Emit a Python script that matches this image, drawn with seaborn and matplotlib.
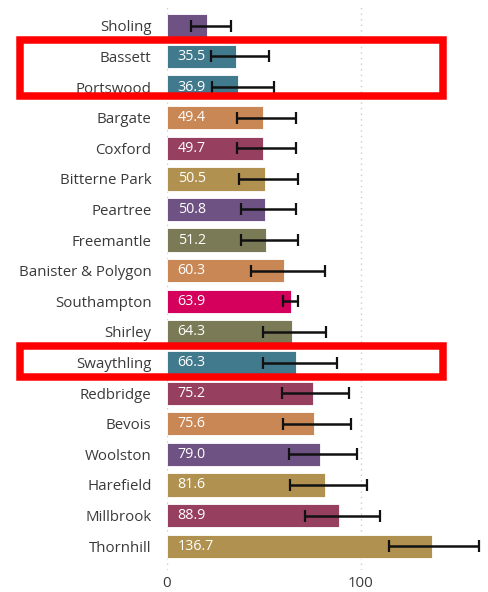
#!/usr/bin/env python3
"""Ward bar chart with confidence intervals, highlighted wards boxed in red."""

import matplotlib.pyplot as plt
import matplotlib.transforms as mtransforms
import pandas as pd
import seaborn as sns
from matplotlib.patches import Rectangle

WARDS = [
    "Sholing", "Bassett", "Portswood", "Bargate", "Coxford", "Bitterne Park",
    "Peartree", "Freemantle", "Banister & Polygon", "Southampton", "Shirley",
    "Swaythling", "Redbridge", "Bevois", "Woolston", "Harefield", "Millbrook",
    "Thornhill",
]
VALUES = [20.5, 35.5, 36.9, 49.4, 49.7, 50.5, 50.8, 51.2, 60.3, 63.9, 64.3,
          66.3, 75.2, 75.6, 79.0, 81.6, 88.9, 136.7]
CI_LOW = [12.2, 22.7, 23.2, 36.2, 36.2, 37.3, 38.0, 38.0, 43.6, 59.8, 49.5,
          49.5, 59.4, 60.0, 63.0, 63.4, 71.0, 114.4]
CI_HIGH = [33.0, 52.6, 55.0, 66.3, 66.5, 67.4, 66.5, 67.7, 81.4, 67.5, 82.0,
           87.6, 93.8, 94.7, 97.8, 103.3, 109.8, 160.8]
HIGHLIGHT = [("Bassett", "Portswood"), ("Swaythling", "Swaythling")]

PURPLE, TEAL, ORANGE = "#6E5283", "#427A8D", "#C98755"
MAROON, GOLD, OLIVE, PINK = "#963F5F", "#B1914F", "#7A7A56", "#D5005B"
COLOURS = [PURPLE, TEAL, TEAL, ORANGE, MAROON, GOLD, PURPLE, OLIVE, ORANGE,
           PINK, OLIVE, TEAL, MAROON, ORANGE, PURPLE, GOLD, MAROON, GOLD]


def main() -> None:
    sns.set_theme(style="white")
    plt.rcParams["font.family"] = ["Open Sans", "DejaVu Sans"]

    df = pd.DataFrame({"Ward": WARDS, "Value": VALUES,
                       "Low": CI_LOW, "High": CI_HIGH})

    fig = plt.figure(figsize=(4.88, 5.92), dpi=100)
    ax = fig.add_axes([0.342, 0.037, 0.648, 0.953])
    sns.barplot(data=df, x="Value", y="Ward", hue="Ward",
                palette=dict(zip(WARDS, COLOURS)), legend=False,
                saturation=1, width=0.76, edgecolor="white", linewidth=0.6,
                ax=ax)

    ypos = range(len(WARDS))
    ax.errorbar(df["Value"], ypos,
                xerr=[df["Value"] - df["Low"], df["High"] - df["Value"]],
                fmt="none", ecolor="#111111", elinewidth=1.8,
                capsize=4, capthick=1.6, zorder=4)

    for y, v in zip(ypos, VALUES):
        if v > 30:
            ax.text(5.5, y, f"{v:.1f}", ha="left", va="center",
                    color="white", fontsize=10.3, zorder=5)

    ax.set_xlim(0, 163)
    ax.set_ylim(17.78, -0.65)
    ax.set_xticks([0, 100])
    ax.set_xlabel("")
    ax.set_ylabel("")
    ax.xaxis.grid(True, linestyle=(0, (1, 3)), color="#cccccc", linewidth=1)
    ax.set_axisbelow(True)
    ax.tick_params(axis="y", length=0, pad=11, labelsize=10.8, labelcolor="#3a3a3a")
    ax.tick_params(axis="x", length=0, pad=4, labelsize=10.8, labelcolor="#3a3a3a")
    sns.despine(ax=ax, left=True, bottom=True)

    # red boxes drawn in figure x, data y
    trans = mtransforms.blended_transform_factory(fig.transFigure, ax.transData)
    for first, last in HIGHLIGHT:
        top = WARDS.index(first) - 0.53
        bottom = WARDS.index(last) + (0.28 if first != last else 0.46)
        fig.patches.append(Rectangle((0.04, top), 0.868, bottom - top,
                                     transform=trans, fill=False,
                                     edgecolor="#ff0000", linewidth=5.4,
                                     zorder=10))

    fig.savefig("out.png", dpi=100)
    plt.close(fig)


if __name__ == "__main__":
    main()
